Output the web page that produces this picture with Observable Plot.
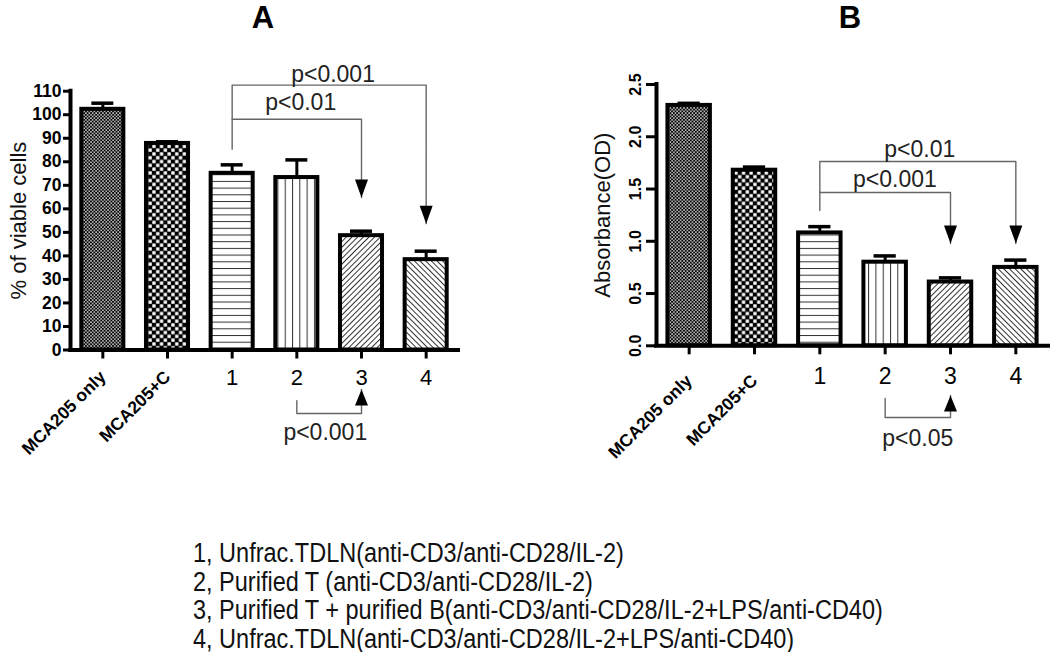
<!DOCTYPE html>
<html>
<head>
<meta charset="utf-8">
<script src="https://cdn.jsdelivr.net/npm/d3@7"></script>
<script src="https://cdn.jsdelivr.net/npm/@observablehq/plot@0.6"></script>
<style>
  body { margin: 0; background: #fff; font-family: "Liberation Sans", Arial, sans-serif; }
  #wrap { position: relative; width: 1050px; height: 652px; overflow: hidden; background: #fff; }
  .panel { position: absolute; top: 0; }
  .title { position: absolute; top: 2px; width: 60px; text-align: center; font-weight: bold; font-size: 31px; line-height: 31px; color: #000; }
  #legend { position: absolute; left: 193px; top: 539px; font-size: 27px; line-height: 28.5px; transform: scaleX(0.87); transform-origin: 0 0; white-space: nowrap; color: #111; }
</style>
</head>
<body>
<svg width="0" height="0" style="position:absolute;left:0;top:0" aria-hidden="true">
  <defs>
    <pattern id="pFine" width="3.4" height="3.4" patternUnits="userSpaceOnUse">
      <rect width="3.4" height="3.4" fill="#000"/>
      <rect x="0.2" y="0.2" width="1.4" height="1.4" fill="#fff"/>
      <rect x="1.9" y="1.9" width="1.4" height="1.4" fill="#fff"/>
    </pattern>
    <pattern id="pCheck" width="7.6" height="7.6" patternUnits="userSpaceOnUse">
      <rect width="7.6" height="7.6" fill="#000"/>
      <rect x="0.3" y="0.3" width="3.3" height="3.3" fill="#fff"/>
      <rect x="4.1" y="4.1" width="3.3" height="3.3" fill="#fff"/>
    </pattern>
    <pattern id="pHoriz" width="10" height="6.7" patternUnits="userSpaceOnUse">
      <rect width="10" height="6.7" fill="#fff"/>
      <rect y="0" width="10" height="1" fill="#333"/>
    </pattern>
    <pattern id="pVert" width="7.3" height="10" patternUnits="userSpaceOnUse">
      <rect width="7.3" height="10" fill="#fff"/>
      <rect x="0" width="1" height="10" fill="#333"/>
    </pattern>
    <pattern id="pDiagR" width="4" height="4" patternUnits="userSpaceOnUse" patternTransform="rotate(45)">
      <rect width="4" height="4" fill="#fff"/>
      <rect width="1" height="4" fill="#333"/>
    </pattern>
    <pattern id="pDiagL" width="4" height="4" patternUnits="userSpaceOnUse" patternTransform="rotate(-45)">
      <rect width="4" height="4" fill="#fff"/>
      <rect width="1" height="4" fill="#333"/>
    </pattern>
  </defs>
</svg>
<div id="wrap">
  <div class="title" style="left:233px">A</div>
  <div class="title" style="left:820px">B</div>
  <div id="panelA" class="panel" style="left:0px"></div>
  <div id="panelB" class="panel" style="left:525px"></div>
  <div id="legend"></div>
</div>
<script>
// ---------- data ----------
const categories = ["MCA205 only", "MCA205+C", "1", "2", "3", "4"];
const viableMean = [102.3, 87.8, 75.1, 73.3, 48.6, 38.4];
const viableErr  = [2.6, 0.7, 3.6, 7.5, 1.9, 3.6];
const odMean = [2.30, 1.68, 1.08, 0.80, 0.61, 0.75];
const odErr  = [0.02, 0.03, 0.06, 0.06, 0.04, 0.07];
const viableTicks = [0, 10, 20, 30, 40, 50, 60, 70, 80, 90, 100, 110];
const odTicks = [0, 0.5, 1.0, 1.5, 2.0, 2.5];
const viableLabel = "% of viable cells";
const odLabel = "Absorbance(OD)";
const legendLines = [
  "1, Unfrac.TDLN(anti-CD3/anti-CD28/IL-2)",
  "2, Purified T (anti-CD3/anti-CD28/IL-2)",
  "3, Purified T + purified B(anti-CD3/anti-CD28/IL-2+LPS/anti-CD40)",
  "4, Unfrac.TDLN(anti-CD3/anti-CD28/IL-2+LPS/anti-CD40)"
];
// significance brackets (category, value) and their labels
const bracketsA = [
  [["1", 85.3], ["1", 112.6], ["4", 112.6], ["4", 53.7]],
  [["1", 98.1], ["3", 98.1], ["3", 64.8]],
  [["2", -21.5], ["2", -27.0], ["3", -27.0], ["3", -16.8]]
];
const pLabelsA = [
  {text: "p<0.001", between: ["1", "4"], y: 117.0, shift: 0.06},
  {text: "p<0.01",  between: ["1", "3"], y: 105.1, shift: 0.06},
  {text: "p<0.001", between: ["2", "3"], y: -35.2, shift: -0.06}
];
const bracketsB = [
  [["1", 1.295], ["1", 1.763], ["4", 1.763], ["4", 0.979]],
  [["1", 1.467], ["3", 1.467], ["3", 0.979]],
  [["2", -0.504], ["2", -0.686], ["3", -0.686], ["3", -0.476]]
];
const pLabelsB = [
  {text: "p<0.01",  between: ["1", "4"], y: 1.874, shift: 0.03},
  {text: "p<0.001", between: ["1", "3"], y: 1.588, shift: 0.15},
  {text: "p<0.05",  between: ["2", "3"], y: -0.884, shift: 0}
];

// ---------- styles ----------
const fills = ["url(#pFine)", "url(#pCheck)", "url(#pHoriz)", "url(#pVert)", "url(#pDiagR)", "url(#pDiagL)"];
const barHalf = 0.325;
const capHalf = 0.17;
const arrowDown = {draw(ctx) { ctx.moveTo(0, 0); ctx.lineTo(-6.5, -18); ctx.lineTo(6.5, -18); ctx.closePath(); }};
const arrowUp = {draw(ctx) { ctx.moveTo(0, 0); ctx.lineTo(-6.5, 16); ctx.lineTo(6.5, 16); ctx.closePath(); }};
const idx = (c) => categories.indexOf(c);

function makePanel(o) {
  const rows = categories.map((c, i) => ({i, c, m: o.means[i], e: o.errs[i], fill: fills[i]}));
  const pts = o.brackets.flatMap((path, k) => path.map(([c, y]) => ({k, x: idx(c), y})));
  const tips = o.brackets.map((path) => {
    const n = path.length;
    return {x: idx(path[n - 1][0]), y: path[n - 1][1], down: path[n - 1][1] < path[n - 2][1]};
  });
  const labels = o.labels.map((l) => ({...l, x: (idx(l.between[0]) + idx(l.between[1])) / 2 + l.shift}));
  const marks = [
    Plot.ruleX(rows, {x: "i", y1: "m", y2: (d) => d.m + d.e, strokeWidth: 3}),
    Plot.ruleY(rows, {y: (d) => d.m + d.e, x1: (d) => d.i - capHalf, x2: (d) => d.i + capHalf, strokeWidth: 3.5}),
    Plot.rect(rows, {x1: (d) => d.i - barHalf, x2: (d) => d.i + barHalf, y1: 0, y2: "m", fill: "fill", stroke: "black", strokeWidth: 4}),
    Plot.ruleY([0], {strokeWidth: 4, strokeLinecap: "square"}),
    Plot.ruleX([-0.5], {y1: o.yDomain[0], y2: o.yDomain[1], strokeWidth: 4, strokeLinecap: "square"}),
    Plot.axisX({ticks: [2, 3, 4, 5], tickFormat: (i) => categories[i], tickSize: 9, tickPadding: o.numPad, fontSize: o.numSize, strokeWidth: 3, label: null}),
    Plot.axisX({ticks: [0, 1], tickFormat: (i) => categories[i], tickSize: 9, tickPadding: o.rotPad, tickRotate: -45, fontSize: 17.5, fontWeight: "bold", strokeWidth: 3, label: null}),
    Plot.line(pts, {x: "x", y: "y", z: "k", stroke: "#666", strokeWidth: 1.4}),
    Plot.dot(tips.filter((d) => d.down), {x: "x", y: "y", symbol: arrowDown, fill: "black", stroke: "none", r: 5}),
    Plot.dot(tips.filter((d) => !d.down), {x: "x", y: "y", symbol: arrowUp, fill: "black", stroke: "none", r: 5}),
    Plot.text(labels, {x: "x", y: "y", text: "text", fontSize: 23, fill: "#222"}),
    Plot.text([o.yLabel], {frameAnchor: "left", textAnchor: "middle", rotate: -90, dx: o.labelDx, fontSize: 22, fill: "#111"})
  ];
  if (o.rotatedY) {
    marks.push(Plot.axisY({ticks: o.yTicks, tickSize: 10, tickFormat: () => "", strokeWidth: 3, label: null}));
    marks.push(Plot.text(o.yTicks, {y: (d) => d, frameAnchor: "left", textAnchor: "middle", dx: -21, rotate: -90, text: d3.format(".1f"), fontSize: 16, fontWeight: "bold"}));
  } else {
    marks.push(Plot.axisY({ticks: o.yTicks, tickSize: 7, tickPadding: 2, fontSize: 17.5, fontWeight: "bold", strokeWidth: 3, label: null}));
  }
  return Plot.plot({
    width: 525, height: 470,
    marginLeft: o.ml, marginRight: o.mr, marginTop: o.mt, marginBottom: o.mb,
    x: {domain: [-0.5, 5.5]},
    y: {domain: o.yDomain},
    color: {type: "identity"},
    style: {fontFamily: "'Liberation Sans', Arial, sans-serif", color: "black", background: "transparent", overflow: "visible"},
    marks
  });
}

document.getElementById("panelA").append(makePanel({
  means: viableMean, errs: viableErr, yDomain: [0, 110], yTicks: viableTicks, yLabel: viableLabel,
  brackets: bracketsA, labels: pLabelsA, rotatedY: false, labelDx: -52, numPad: 10, numSize: 22, rotPad: 15,
  ml: 70, mr: 67, mt: 90.7, mb: 120.5
}));
document.getElementById("panelB").append(makePanel({
  means: odMean, errs: odErr, yDomain: [0, 2.5], yTicks: odTicks, yLabel: odLabel,
  brackets: bracketsB, labels: pLabelsB, rotatedY: true, labelDx: -54, numPad: 13, numSize: 23, rotPad: 23,
  ml: 131, mr: 2, mt: 84, mb: 124.7
}));
const legend = document.getElementById("legend");
legendLines.forEach((t) => { const d = document.createElement("div"); d.textContent = t; legend.append(d); });
</script>
</body>
</html>
